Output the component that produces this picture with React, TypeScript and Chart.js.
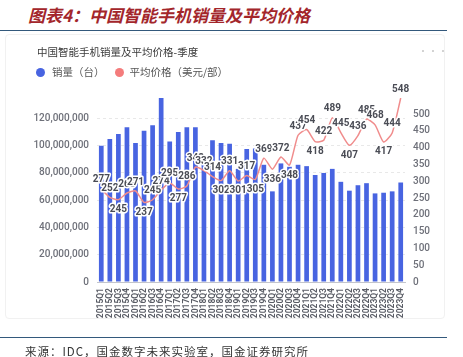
import React, { useEffect, useRef } from 'react';
import { Chart, registerables } from 'chart.js';

Chart.register(...registerables);

const quarters = [
  '2015Q1', '2015Q2', '2015Q3', '2015Q4',
  '2016Q1', '2016Q2', '2016Q3', '2016Q4',
  '2017Q1', '2017Q2', '2017Q3', '2017Q4',
  '2018Q1', '2018Q2', '2018Q3', '2018Q4',
  '2019Q1', '2019Q2', '2019Q3', '2019Q4',
  '2020Q1', '2020Q2', '2020Q3', '2020Q4',
  '2021Q1', '2021Q2', '2021Q3', '2021Q4',
  '2022Q1', '2022Q2', '2022Q3', '2022Q4',
  '2023Q1', '2023Q2', '2023Q3', '2023Q4',
];

// 销量（台）
const salesUnits = [
  100000000, 105000000, 108500000, 113500000,
  102000000, 111000000, 115000000, 135000000,
  103000000, 110000000, 113500000, 113500000,
  90500000, 104000000, 102000000, 101500000,
  83000000, 97500000, 98000000, 86000000,
  66500000, 87000000, 84500000, 86000000,
  85000000, 78500000, 80000000, 83000000,
  73500000, 67000000, 71000000, 72500000,
  65000000, 65500000, 66500000, 73000000,
];

// 平均价格（美元/部）
const avgPrice = [
  277, 252, 245, 265,
  271, 237, 245, 274,
  295, 277, 286, 342,
  332, 314, 302, 331,
  301, 317, 305, 369,
  336, 372, 348, 437,
  454, 418, 422, 489,
  445, 407, 436, 485,
  468, 417, 444, 548,
];

const leftTicks = [0, 20000000, 40000000, 60000000, 80000000, 100000000, 120000000];
const rightTicks = [0, 50, 100, 150, 200, 250, 300, 350, 400, 450, 500];

const BAR_COLOR = '#4864e1';
const LINE_COLOR = '#f08c8c';
const AXIS_TEXT = '#6e7079';

const pointLabelPlugin = {
  id: 'pointLabels',
  afterDatasetsDraw(chart: any) {
    const meta = chart.getDatasetMeta(0);
    const ctx = chart.ctx;
    ctx.save();
    ctx.font = 'bold 10px Roboto';
    ctx.textAlign = 'center';
    ctx.textBaseline = 'middle';
    ctx.lineWidth = 3;
    ctx.lineJoin = 'round';
    ctx.strokeStyle = '#ffffff';
    ctx.fillStyle = '#4a4c55';
    meta.data.forEach((pt: any, i: number) => {
      const v = avgPrice[i];
      const prev = i > 0 ? avgPrice[i - 1] : Infinity;
      const next = i < avgPrice.length - 1 ? avgPrice[i + 1] : Infinity;
      const isMin = v < prev && v < next;
      const y = isMin ? pt.y + 10 : pt.y - 9;
      ctx.strokeText(String(v), pt.x, y);
      ctx.fillText(String(v), pt.x, y);
    });
    ctx.restore();
  },
};

function ChartCanvas() {
  const ref = useRef<HTMLCanvasElement | null>(null);
  useEffect(() => {
    if (!ref.current) return;
    const chart = new Chart(ref.current, {
      type: 'bar',
      data: {
        labels: quarters,
        datasets: [
          {
            type: 'line',
            label: '平均价格（美元/部）',
            data: avgPrice,
            yAxisID: 'y1',
            borderColor: LINE_COLOR,
            backgroundColor: LINE_COLOR,
            borderWidth: 1.5,
            pointRadius: 0,
            tension: 0.2,
            order: 0,
          } as any,
          {
            type: 'bar',
            label: '销量（台）',
            data: salesUnits,
            yAxisID: 'y',
            backgroundColor: BAR_COLOR,
            barPercentage: 0.55,
            categoryPercentage: 1,
            order: 1,
          } as any,
        ],
      },
      options: {
        responsive: false,
        animation: false,
        devicePixelRatio: 1,
        layout: { padding: { top: 98, left: 0, right: 0, bottom: 0 } },
        plugins: {
          legend: { display: false },
          tooltip: { enabled: false },
          title: { display: false },
        },
        scales: {
          x: {
            grid: { display: false, drawTicks: false },
            border: { display: true, color: '#c3c5cc' },
            ticks: {
              autoSkip: false,
              minRotation: 90,
              maxRotation: 90,
              padding: 6,
              color: '#5a5d66',
              font: { family: 'Roboto', size: 8.5, weight: 'bold' },
            },
            afterFit(s: any) {
              s.height = 75;
            },
          },
          y: {
            position: 'left',
            min: 0,
            max: 135000000,
            grid: { color: '#e8e8e8', drawTicks: false },
            border: { display: false, dash: [3, 3] },
            ticks: {
              padding: 8,
              color: AXIS_TEXT,
              font: { family: 'Roboto', size: 10, weight: '500' },
              callback: (v: any) => Number(v).toLocaleString('en-US'),
            },
            afterBuildTicks(s: any) {
              s.ticks = leftTicks.map((v) => ({ value: v }));
            },
            afterFit(s: any) {
              s.width = 97;
            },
          },
          y1: {
            position: 'right',
            min: 0,
            max: 548,
            grid: { display: false, drawTicks: false },
            border: { display: false },
            ticks: {
              padding: 8,
              color: AXIS_TEXT,
              font: { family: 'Roboto', size: 10, weight: '500' },
            },
            afterBuildTicks(s: any) {
              s.ticks = rightTicks.map((v) => ({ value: v }));
            },
            afterFit(s: any) {
              s.width = 58;
            },
          },
        },
      } as any,
      plugins: [pointLabelPlugin],
    });
    return () => chart.destroy();
  }, []);
  return (
    <canvas
      ref={ref}
      width={463}
      height={357}
      style={{ position: 'absolute', left: 0, top: 0, width: 463, height: 357 }}
    />
  );
}

export default function App() {
  const cjk = '"Noto Sans CJK SC", "Noto Sans", sans-serif';
  return (
    <div
      style={{
        position: 'fixed',
        left: 0,
        top: 0,
        width: 463,
        height: 357,
        background: '#ffffff',
        overflow: 'hidden',
        fontFamily: cjk,
      }}
    >
      <div
        style={{
          position: 'absolute',
          left: 28,
          top: 3,
          fontSize: 17,
          lineHeight: '24px',
          fontWeight: 'bold',
          fontStyle: 'italic',
          color: '#a3262b',
          whiteSpace: 'nowrap',
        }}
      >
        图表4：中国智能手机销量及平均价格
      </div>
      <div style={{ position: 'absolute', left: 0, top: 30, width: 447, height: 0, borderTop: '1.5px solid #33597c' }} />
      <div
        style={{
          position: 'absolute',
          left: 5,
          top: 34,
          width: 440,
          height: 285,
          border: '1px solid #f1f1f1',
          borderRadius: 4,
          boxSizing: 'border-box',
        }}
      />
      <ChartCanvas />
      <div
        style={{
          position: 'absolute',
          left: 37,
          top: 45,
          fontSize: 10.5,
          lineHeight: '14px',
          color: '#3a3a3a',
          whiteSpace: 'nowrap',
        }}
      >
        中国智能手机销量及平均价格-季度
      </div>
      <div style={{ position: 'absolute', left: 418, top: 44, fontSize: 10, color: '#cccccc', lineHeight: '14px' }}>···</div>
      <div
        style={{
          position: 'absolute',
          left: 36,
          top: 65,
          height: 14,
          display: 'flex',
          alignItems: 'center',
          fontSize: 10.5,
          lineHeight: '14px',
          color: '#555555',
          whiteSpace: 'nowrap',
        }}
      >
        <span style={{ display: 'inline-block', width: 9, height: 9, borderRadius: '50%', background: BAR_COLOR, marginRight: 7 }} />
        <span>销量（台）</span>
        <span style={{ display: 'inline-block', width: 9, height: 9, borderRadius: '50%', background: '#f47c7c', marginLeft: 10, marginRight: 6 }} />
        <span>平均价格（美元/部）</span>
      </div>
      <div style={{ position: 'absolute', left: 0, top: 337, width: 447, height: 0, borderTop: '1.5px solid #33597c' }} />
      <div
        style={{
          position: 'absolute',
          left: 25,
          top: 343,
          fontSize: 11.5,
          lineHeight: '16px',
          letterSpacing: 1,
          color: '#333333',
          whiteSpace: 'nowrap',
        }}
      >
        来源：IDC，国金数字未来实验室，国金证券研究所
      </div>
    </div>
  );
}
